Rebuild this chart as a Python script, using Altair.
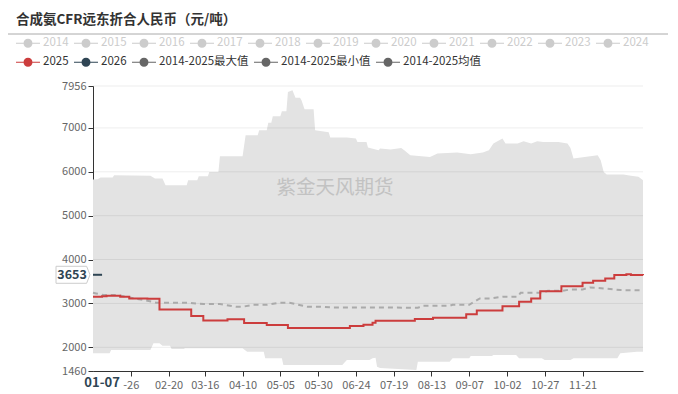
import altair as alt
import pandas as pd

FONT = "Noto Sans CJK SC"

title_text = "合成氨CFR远东折合人民币（元/吨）"
watermark_text = "紫金天风期货"

hidden_years = ["2014", "2015", "2016", "2017", "2018", "2019", "2020", "2021", "2022", "2023", "2024"]
active_series = ["2025", "2026", "2014-2025最大值", "2014-2025最小值", "2014-2025均值"]
active_colors = ["#cc3d3d", "#2f4554", "#666666", "#666666", "#666666"]

y_ticks = [1460, 2000, 3000, 4000, 5000, 6000, 7000, 7956]
x_tick_labels = ["01-26", "02-20", "03-16", "04-10", "05-05", "05-30", "06-24",
                 "07-19", "08-13", "09-07", "10-02", "10-27", "11-21"]

# day offsets from Jan 1
max_days = [0, 3, 5, 13, 14, 38, 41, 46, 48, 62, 63, 69, 70, 76, 77, 83, 84, 99, 101, 109,
            110, 115, 116, 118, 119, 124, 125, 128, 129, 132, 134, 137, 138, 140, 146, 147, 156, 157, 168, 174,
            175, 181, 182, 189, 190, 197, 204, 206, 210, 223, 228, 241, 250, 258, 262, 265, 271, 273, 281, 285,
            290, 294, 298, 308, 314, 316, 318, 334, 336, 338, 340, 351, 356, 361, 364]
max_vals = [5825, 5830, 5870, 5870, 5920, 5910, 5850, 5848, 5695, 5695, 5810, 5810, 5900, 5900, 5998, 5998, 6355, 6355, 6834, 6834,
            6947, 6947, 7120, 7120, 7265, 7265, 7380, 7380, 7820, 7858, 7690, 7690, 7630, 7425, 7425, 6947, 6900, 6780, 6780, 6758,
            6680, 6680, 6553, 6492, 6530, 6510, 6540, 6490, 6378, 6340, 6416, 6440, 6400, 6440, 6490, 6645, 6758, 6645, 6645, 6697,
            6645, 6697, 6680, 6680, 6645, 6540, 6303, 6378, 6264, 5998, 5938, 5938, 5910, 5890, 5810]

min_days = [0, 11, 12, 38, 40, 44, 46, 51, 52, 60, 61, 99, 102, 113, 114, 125, 126, 165, 168, 183,
            185, 187, 188, 190, 214, 215, 236, 238, 249, 250, 264, 265, 280, 282, 297, 299, 316, 318, 347, 349,
            360, 364]
min_vals = [1863, 1863, 1938, 1938, 2090, 2090, 2036, 2036, 1961, 1961, 1977, 1977, 1900, 1900, 1749, 1749, 1597, 1597, 1710, 1710,
            1749, 1760, 1558, 1530, 1480, 1672, 1672, 1749, 1749, 1801, 1801, 1824, 1824, 1749, 1749, 1710, 1710, 1749, 1749, 1863,
            1900, 1900]

mean_days = [0, 2, 7, 16, 25, 36, 42, 64, 68, 73, 84, 95, 99, 106, 115, 124, 130, 142, 150, 157,
             190, 215, 218, 236, 238, 249, 256, 263, 271, 281, 283, 298, 301, 311, 316, 324, 329, 338, 349, 364]
mean_vals = [3243, 3228, 3190, 3190, 3129, 3061, 3015, 3015, 3000, 2985, 2985, 2924, 2924, 2970, 2970, 3015, 3015, 2924, 2924, 2910,
             2910, 2900, 2947, 2947, 2970, 2970, 3115, 3115, 3152, 3152, 3243, 3243, 3288, 3288, 3320, 3320, 3365, 3342, 3304, 3300]

s2025_days = [0, 6, 9, 18, 24, 36, 44, 65, 73, 89, 100, 115, 129, 170, 179, 185, 187, 213, 225, 247,
              254, 271, 282, 290, 296, 310, 324, 331, 339, 345, 353, 356, 364]
s2025_vals = [3152, 3165, 3175, 3150, 3115, 3106, 2862, 2712, 2610, 2637, 2555, 2507, 2440, 2485, 2515, 2560, 2606, 2644, 2674, 2751,
              2840, 2935, 3038, 3115, 3275, 3390, 3470, 3516, 3571, 3650, 3668, 3650, 3645]

s2026_days = [0, 6]
s2026_vals = [3653, 3653]

BASE = pd.Timestamp("2025-01-01")


def to_dates(days):
    return [BASE + pd.Timedelta(days=d) for d in days]


def dt(md):
    m, d = md.split("-")
    return alt.DateTime(year=2025, month=int(m), date=int(d))


xscale = alt.Scale(domain=[dt("01-01"), dt("12-31")])
yscale = alt.Scale(domain=[y_ticks[0], y_ticks[-1]], nice=False, zero=False)

xaxis = alt.Axis(values=[dt(v) for v in x_tick_labels], format="%m-%d",
                 labelExpr="datum.label == '01-26' ? '-26' : datum.label",
                 grid=False, domainColor="#333333", tickColor="#333333", tickSize=5,
                 labelColor="#666666", labelFont=FONT, labelFontSize=11, labelPadding=3,
                 labelFlush=False, labelOverlap=False, title=None, zindex=0)
yaxis = alt.Axis(values=y_ticks, format="d", grid=False, domainColor="#333333", tickColor="#333333", tickSize=5,
                 labelColor="#666666", labelFont=FONT, labelFontSize=11, labelPadding=2,
                 labelFlush=False, labelOverlap=False, title=None, zindex=0)

X = alt.X("date:T", scale=xscale, axis=xaxis, title=None)

max_df = pd.DataFrame({"date": to_dates(max_days), "v": max_vals})
min_df = pd.DataFrame({"date": to_dates(min_days), "v": min_vals})
mean_df = pd.DataFrame({"date": to_dates(mean_days), "v": mean_vals})
df2025 = pd.DataFrame({"date": to_dates(s2025_days), "v": s2025_vals})
df2026 = pd.DataFrame({"date": to_dates(s2026_days), "v": s2026_vals})
ptr_df = pd.DataFrame({"date": to_dates([s2026_days[-1]]), "v": [s2026_vals[-1]],
                       "label": [str(s2026_vals[-1])],
                       "xlabel": [to_dates([s2026_days[-1]])[0].strftime("%m-%d")]})

Yv = alt.Y("v:Q", scale=yscale, axis=yaxis, title=None)

max_area = alt.Chart(max_df).mark_area(color="#e3e3e3", opacity=1).encode(x=X, y=Yv, y2=alt.datum(y_ticks[0]))
min_area = alt.Chart(min_df).mark_area(color="#ffffff", opacity=1).encode(x=X, y=Yv, y2=alt.datum(y_ticks[0]))

grid = alt.Chart(pd.DataFrame({"v": y_ticks[1:]})).mark_rule(color="#000000", opacity=0.07, strokeWidth=1).encode(
    y=alt.Y("v:Q", scale=yscale, axis=yaxis, title=None))

watermark = alt.Chart(pd.DataFrame({"t": [watermark_text]})).mark_text(
    font=FONT, fontSize=19.5, color="#c2c2c2", align="center", baseline="middle").encode(
    text="t:N", x=alt.value(242), y=alt.value(102))

mean_line = alt.Chart(mean_df).mark_line(color="#aaaaaa", strokeWidth=2, strokeDash=[5, 4]).encode(x=X, y=Yv)
line2025 = alt.Chart(df2025).mark_line(color=active_colors[0], strokeWidth=2, interpolate="step-after").encode(x=X, y=Yv)
line2026 = alt.Chart(df2026).mark_line(color=active_colors[1], strokeWidth=2).encode(x=X, y=Yv)

BOX = "M-1,-0.5L0.8,-0.5L1,0L0.8,0.5L-1,0.5Z"
ptr_box = alt.Chart(ptr_df).mark_point(shape=BOX, filled=True, fill="#ffffff", stroke="#cccccc",
                                       strokeWidth=1, size=1156, opacity=1).encode(
    x=alt.value(-20), y=Yv)
ptr_text = alt.Chart(ptr_df).mark_text(font=FONT, fontSize=12.5, fontWeight="bold", color="#2f4554",
                                       align="center", baseline="middle").encode(
    text="label:N", x=alt.value(-21), y=Yv)
ptr_xtext = alt.Chart(ptr_df).mark_text(font=FONT, fontSize=13, fontWeight="bold", color="#2f4554",
                                        align="center", baseline="middle").encode(
    text="xlabel:N", x=X, y=alt.value(297))

SYMBOL = ("M-1,-0.05L-0.37,-0.05L-0.37,0.05L-1,0.05Z M0.37,-0.05L1,-0.05L1,0.05L0.37,0.05Z "
          "M-0.375,0A0.375,0.375,0,1,0,0.375,0A0.375,0.375,0,1,0,-0.375,0Z")

leg1 = alt.Chart(pd.DataFrame({"name": hidden_years})).mark_point(filled=True, opacity=0).encode(
    x=alt.value(0), y=alt.value(0),
    color=alt.Color("name:N", scale=alt.Scale(domain=hidden_years, range=["#cccccc"] * len(hidden_years)),
                    legend=alt.Legend(orient="none", legendX=-77, legendY=-55, direction="horizontal",
                                      title=None, symbolType=SYMBOL, symbolSize=576, symbolOpacity=1,
                                      symbolStrokeWidth=0, labelColor="#cccccc", labelFont=FONT,
                                      labelFontSize=11.5, labelOffset=3, columnPadding=5, padding=0)))
leg2 = alt.Chart(pd.DataFrame({"name": active_series})).mark_point(filled=True, opacity=0).encode(
    x=alt.value(0), y=alt.value(0),
    color=alt.Color("name:N", scale=alt.Scale(domain=active_series, range=active_colors),
                    legend=alt.Legend(orient="none", legendX=-77, legendY=-36, direction="horizontal",
                                      title=None, symbolType=SYMBOL, symbolSize=576, symbolOpacity=1,
                                      symbolStrokeWidth=0, labelColor="#333333", labelFont=FONT,
                                      labelFontSize=11.5, labelOffset=3, columnPadding=5, padding=0)))

title = alt.Chart(pd.DataFrame({"t": [title_text]})).mark_text(
    font=FONT, fontSize=13.5, fontWeight="bold", color="#333333", align="left", baseline="middle").encode(
    text="t:N", x=alt.value(-77), y=alt.value(-66))
top_rule = alt.Chart(pd.DataFrame({"a": [0]})).mark_rule(color="#aaaaaa", strokeWidth=1).encode(
    x=alt.value(-85), x2=alt.value(575), y=alt.value(-52))

chart = alt.layer(
    max_area, min_area, grid, watermark, mean_line, line2025, line2026,
    ptr_box, ptr_text, ptr_xtext, leg1, leg2, title, top_rule
).resolve_scale(color="independent").properties(
    width=550, height=285,
    autosize=alt.AutoSizeParams(type="none"),
    padding={"left": 85, "top": 78, "right": 27, "bottom": 22},
    background="#ffffff"
).configure_view(strokeWidth=0)

chart.save("out.html", embed_options={"renderer": "svg", "actions": False})
